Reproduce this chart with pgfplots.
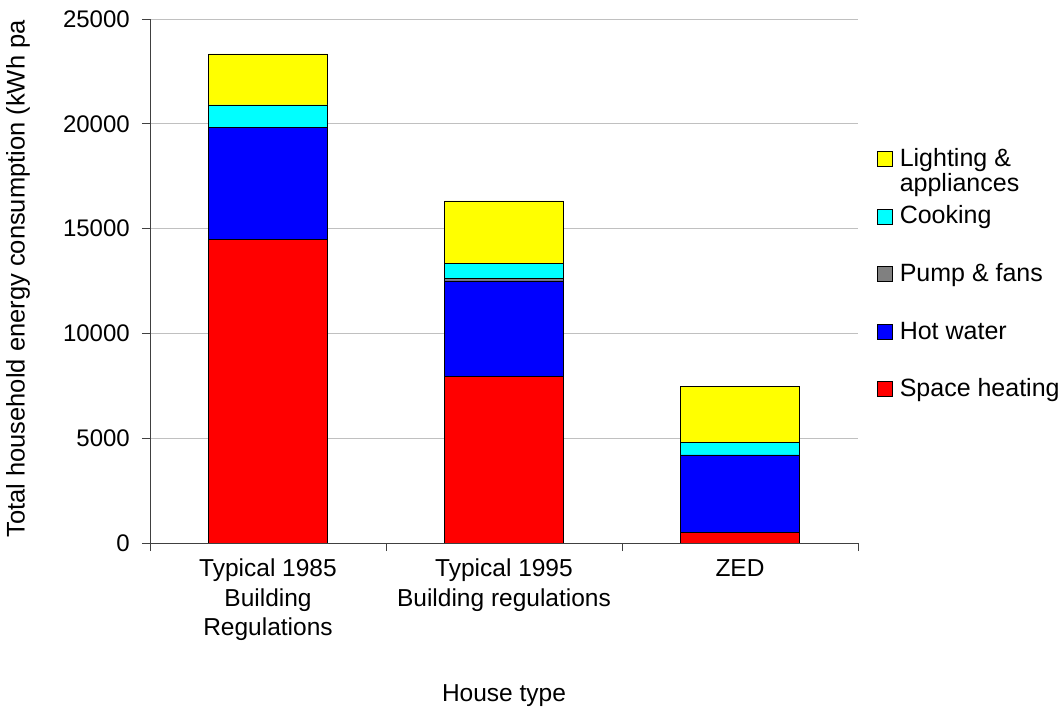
\documentclass[border=0pt]{standalone}
\usepackage{pgfplots}
\pgfplotsset{compat=1.18}
\usepackage{fontspec}
\setmainfont{Liberation Sans}

\definecolor{heatred}{HTML}{FF0000}
\definecolor{waterblue}{HTML}{0000FF}
\definecolor{pumpgray}{HTML}{808080}
\definecolor{cookcyan}{HTML}{00FFFF}
\definecolor{lightyellow}{HTML}{FFFF00}
\definecolor{gridgray}{HTML}{C0C0C0}

% energy use per house type (kWh per year), stacked from the bottom
% x: 0 = Typical 1985, 1 = Typical 1995, 2 = ZED
\pgfplotstableread{
x  heating  water  pump  cooking  lighting
0  14500    5330   0     1070     2430
1  7930     4570   130   720      2970
2  510      3690   0     610      2670
}\energydata

\pgfplotsset{
  sq/.style={legend image code/.code={
    \draw[##1,draw=black,line width=0.6bp] (0bp,-7.5bp) rectangle (15bp,7.5bp);}},
}

\begin{document}
\fontsize{24bp}{29.5bp}\selectfont
\begin{tikzpicture}
\useasboundingbox (0,0) rectangle (1061bp,708bp);
\begin{axis}[
  at={(150bp,165bp)}, anchor=south west,
  width=708bp, height=524bp, scale only axis,
  xmin=-0.5, xmax=2.5, ymin=0, ymax=25000,
  ybar stacked, bar width=119bp,
  xtick={0,1,2},
  xticklabels={{Typical 1985\\Building\\Regulations},{Typical 1995\\Building regulations},{ZED}},
  xticklabel style={align=center, anchor=north, inner sep=0pt, yshift=-8bp,
    font=\fontsize{24.5bp}{29.5bp}\selectfont},
  major x tick style={draw=none},
  minor xtick={-0.5,0.5,1.5,2.5},
  ytick={0,5000,10000,15000,20000,25000},
  yticklabel style={anchor=east, inner sep=0pt, xshift=-12bp,
    font=\fontsize{24bp}{29.5bp}\selectfont},
  major tick length=8bp, minor tick length=8bp,
  tick align=outside, xtick pos=bottom, ytick pos=left,
  tick style={black!75, line width=0.8bp},
  scaled y ticks=false,
  /pgf/number format/1000 sep={},
  /pgf/number format/assume math mode=true,
  ymajorgrids, grid style={gridgray, line width=0.8bp},
  axis x line*=bottom, axis y line*=left,
  axis line style={-, black!75, line width=0.8bp},
  every axis y label/.style={at={(axis description cs:-0.1864,0.504)}, rotate=90, anchor=center,
    font=\fontsize{25.5bp}{29.5bp}\selectfont},
  every axis x label/.style={at={(axis description cs:0.5,-0.2905)}, anchor=center,
    font=\fontsize{24.5bp}{29.5bp}\selectfont},
  ylabel={Total household energy consumption (kWh pa},
  xlabel={House type},
  reverse legend,
  legend cell align=left,
  legend style={draw=none, fill=none, inner sep=0pt,
    at={(axis description cs:1.0268,0.7538)}, anchor=north west,
    row sep=36.6bp,
    nodes={inner sep=0pt, text height=18bp, text depth=3bp,
      font=\fontsize{25bp}{29.5bp}\selectfont},
    /tikz/every odd column/.append style={column sep=7bp}},
]
\addplot[sq, fill=heatred, draw=black, line width=0.8bp] table[x=x, y=heating] {\energydata};
\addlegendentry{Space heating}
\addplot[sq, fill=waterblue, draw=black, line width=0.8bp] table[x=x, y=water] {\energydata};
\addlegendentry{Hot water}
\addplot[sq, fill=pumpgray, draw=black, line width=0.8bp] table[x=x, y=pump] {\energydata};
\addlegendentry{Pump \& fans}
\addplot[sq, fill=cookcyan, draw=black, line width=0.8bp] table[x=x, y=cooking] {\energydata};
\addlegendentry{Cooking}
\addplot[sq, fill=lightyellow, draw=black, line width=0.8bp] table[x=x, y=lighting] {\energydata};
\addlegendentry{\rlap{\smash{\raisebox{-25bp}{appliances}}}Lighting \&}
\end{axis}
\end{tikzpicture}
\end{document}
